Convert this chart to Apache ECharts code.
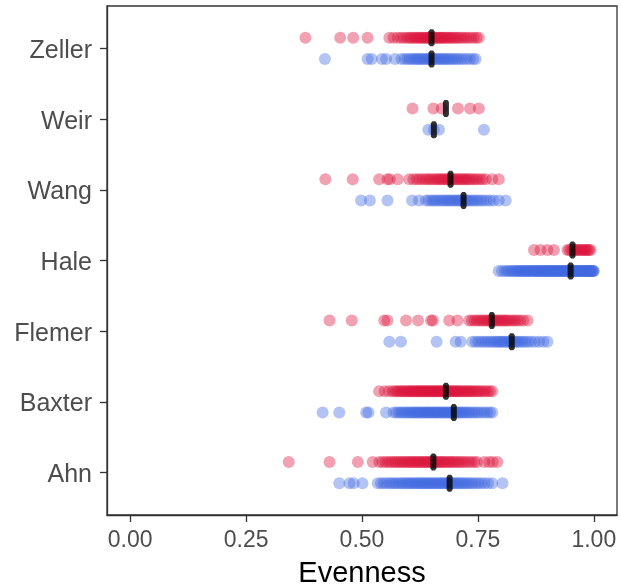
<!DOCTYPE html>
<html>
<head>
<meta charset="utf-8">
<script src="https://cdn.jsdelivr.net/npm/echarts@6/dist/echarts.min.js"></script>
<style>
  html, body { margin: 0; padding: 0; background: #ffffff; }
  #chart { width: 621px; height: 587px; }
</style>
</head>
<body>
<div id="chart"></div>
<script>
// Studies, listed from the bottom of the plot to the top
const studies = ['Ahn', 'Baxter', 'Flemer', 'Hale', 'Wang', 'Weir', 'Zeller'];

// Evenness per sample, first group (red) and second group (blue)
const ahnRed = [0.342, 0.430, 0.491, 0.523, 0.537, 0.544, 0.550, 0.556, 0.561, 0.566, 0.571, 0.575, 0.580, 0.584, 0.588, 0.592, 0.596, 0.600, 0.604, 0.607, 0.611, 0.615, 0.618, 0.622, 0.625, 0.629, 0.632, 0.636, 0.639, 0.642, 0.646, 0.649, 0.652, 0.655, 0.659, 0.662, 0.666, 0.669, 0.673, 0.676, 0.680, 0.684, 0.688, 0.692, 0.696, 0.700, 0.705, 0.709, 0.714, 0.719, 0.724, 0.730, 0.736, 0.742, 0.748, 0.764, 0.774, 0.782, 0.792];
const ahnBlue = [0.451, 0.473, 0.482, 0.501, 0.534, 0.541, 0.547, 0.553, 0.559, 0.564, 0.569, 0.574, 0.579, 0.584, 0.588, 0.593, 0.597, 0.601, 0.605, 0.609, 0.613, 0.617, 0.621, 0.625, 0.629, 0.632, 0.636, 0.640, 0.643, 0.647, 0.651, 0.654, 0.658, 0.662, 0.665, 0.669, 0.673, 0.676, 0.680, 0.684, 0.687, 0.691, 0.695, 0.699, 0.703, 0.707, 0.711, 0.715, 0.720, 0.724, 0.729, 0.734, 0.739, 0.745, 0.751, 0.757, 0.764, 0.772, 0.781, 0.803];

const baxterRed = [0.537, 0.549, 0.558, 0.566, 0.571, 0.575, 0.579, 0.583, 0.586, 0.590, 0.593, 0.597, 0.600, 0.603, 0.606, 0.609, 0.612, 0.615, 0.618, 0.621, 0.623, 0.626, 0.629, 0.632, 0.634, 0.637, 0.640, 0.642, 0.645, 0.648, 0.650, 0.653, 0.656, 0.658, 0.661, 0.664, 0.666, 0.669, 0.672, 0.674, 0.677, 0.680, 0.683, 0.685, 0.688, 0.691, 0.694, 0.697, 0.700, 0.703, 0.706, 0.709, 0.712, 0.716, 0.719, 0.722, 0.726, 0.729, 0.733, 0.736, 0.740, 0.744, 0.748, 0.752, 0.756, 0.761, 0.766, 0.771, 0.776, 0.781];
const baxterBlue = [0.415, 0.451, 0.509, 0.514, 0.552, 0.568, 0.574, 0.579, 0.584, 0.588, 0.593, 0.597, 0.601, 0.605, 0.609, 0.612, 0.616, 0.619, 0.623, 0.626, 0.630, 0.633, 0.636, 0.640, 0.643, 0.646, 0.649, 0.653, 0.656, 0.659, 0.662, 0.665, 0.669, 0.672, 0.675, 0.678, 0.682, 0.685, 0.688, 0.692, 0.695, 0.698, 0.702, 0.705, 0.709, 0.712, 0.716, 0.720, 0.724, 0.728, 0.732, 0.737, 0.742, 0.747, 0.752, 0.758, 0.764, 0.770, 0.776, 0.781];

const flemerRed = [0.430, 0.478, 0.548, 0.555, 0.595, 0.621, 0.649, 0.653, 0.688, 0.706, 0.731, 0.737, 0.743, 0.748, 0.753, 0.758, 0.762, 0.767, 0.771, 0.775, 0.779, 0.783, 0.787, 0.791, 0.795, 0.799, 0.803, 0.807, 0.811, 0.815, 0.820, 0.825, 0.830, 0.835, 0.841, 0.848, 0.857];
const flemerBlue = [0.559, 0.584, 0.661, 0.702, 0.713, 0.738, 0.745, 0.751, 0.757, 0.763, 0.768, 0.774, 0.779, 0.784, 0.789, 0.793, 0.797, 0.801, 0.805, 0.809, 0.813, 0.817, 0.821, 0.825, 0.829, 0.833, 0.837, 0.842, 0.847, 0.852, 0.858, 0.865, 0.873, 0.882, 0.891, 0.900];

const haleRed = [0.871, 0.885, 0.900, 0.914, 0.943, 0.947, 0.951, 0.955, 0.958, 0.962, 0.965, 0.968, 0.972, 0.975, 0.978, 0.981, 0.984, 0.987, 0.990, 0.993];
const haleBlue = [0.795, 0.802, 0.808, 0.813, 0.817, 0.822, 0.825, 0.829, 0.833, 0.836, 0.838, 0.842, 0.845, 0.847, 0.851, 0.853, 0.856, 0.859, 0.860, 0.864, 0.867, 0.869, 0.872, 0.874, 0.876, 0.879, 0.881, 0.884, 0.885, 0.888, 0.891, 0.893, 0.894, 0.897, 0.899, 0.902, 0.904, 0.905, 0.908, 0.911, 0.912, 0.915, 0.917, 0.919, 0.922, 0.923, 0.926, 0.928, 0.931, 0.933, 0.934, 0.937, 0.939, 0.941, 0.943, 0.946, 0.947, 0.950, 0.952, 0.953, 0.956, 0.958, 0.960, 0.962, 0.963, 0.966, 0.968, 0.969, 0.972, 0.974, 0.975, 0.977, 0.979, 0.981, 0.983, 0.984, 0.986, 0.988, 0.990, 0.991, 0.993, 0.995, 0.996, 0.998, 0.999, 1.000];

const wangRed = [0.421, 0.480, 0.537, 0.555, 0.560, 0.577, 0.602, 0.611, 0.618, 0.624, 0.630, 0.636, 0.641, 0.646, 0.651, 0.656, 0.661, 0.665, 0.669, 0.673, 0.677, 0.681, 0.685, 0.689, 0.693, 0.697, 0.701, 0.705, 0.709, 0.713, 0.717, 0.721, 0.725, 0.729, 0.733, 0.738, 0.743, 0.748, 0.754, 0.760, 0.767, 0.781, 0.795];
const wangBlue = [0.498, 0.517, 0.555, 0.608, 0.623, 0.638, 0.644, 0.650, 0.655, 0.660, 0.665, 0.670, 0.675, 0.679, 0.684, 0.688, 0.692, 0.697, 0.701, 0.705, 0.709, 0.713, 0.717, 0.722, 0.726, 0.730, 0.735, 0.740, 0.745, 0.750, 0.756, 0.762, 0.769, 0.776, 0.784, 0.795, 0.810];

const weirRed = [0.609, 0.654, 0.672, 0.707, 0.733, 0.752];
const weirBlue = [0.643, 0.655, 0.666, 0.763];

const zellerRed = [0.378, 0.453, 0.481, 0.512, 0.559, 0.568, 0.577, 0.584, 0.590, 0.596, 0.601, 0.605, 0.609, 0.613, 0.617, 0.620, 0.624, 0.627, 0.631, 0.634, 0.637, 0.640, 0.643, 0.646, 0.649, 0.652, 0.655, 0.658, 0.661, 0.664, 0.667, 0.670, 0.673, 0.676, 0.679, 0.683, 0.686, 0.690, 0.693, 0.697, 0.701, 0.705, 0.709, 0.714, 0.719, 0.724, 0.729, 0.735, 0.741, 0.747, 0.752];
const zellerBlue = [0.420, 0.512, 0.521, 0.543, 0.552, 0.571, 0.585, 0.592, 0.598, 0.603, 0.608, 0.613, 0.617, 0.621, 0.625, 0.629, 0.633, 0.637, 0.641, 0.645, 0.648, 0.652, 0.656, 0.660, 0.664, 0.668, 0.672, 0.676, 0.680, 0.684, 0.689, 0.693, 0.698, 0.703, 0.708, 0.714, 0.720, 0.726, 0.733, 0.740, 0.745];

// Group medians per study (same order as studies)
const medianRed = [0.654, 0.681, 0.780, 0.954, 0.691, 0.681, 0.650];
const medianBlue = [0.689, 0.698, 0.823, 0.950, 0.719, 0.655, 0.650];

// X-axis tick positions
const xTicks = [0, 0.25, 0.5, 0.75, 1];

const redByStudy = [ahnRed, baxterRed, flemerRed, haleRed, wangRed, weirRed, zellerRed];
const blueByStudy = [ahnBlue, baxterBlue, flemerBlue, haleBlue, wangBlue, weirBlue, zellerBlue];

const DODGE = 0.15;
const RED = 'rgba(220, 20, 60, 0.5)';
const BLUE = 'rgba(65, 105, 225, 0.5)';
const AXIS_COL = '#333333';

function points(groups, offset) {
  const out = [];
  groups.forEach((vals, i) => vals.forEach(v => out.push([v, i + offset])));
  return out;
}
function medians(vals, offset) {
  return vals.map((v, i) => [v, i + offset]);
}

const yTicks = studies.map((_, i) => i);
const medianSymbol = 'path://M1,0 L3,0 L4,2 L4,15 L3,17 L1,17 L0,15 L0,2 Z';

const chart = echarts.init(document.getElementById('chart'), null, { renderer: 'canvas' });
chart.setOption({
  animation: false,
  backgroundColor: '#ffffff',
  grid: {
    left: 107, top: 6, right: 4, bottom: 72,
    outerBoundsMode: 'none',
    containLabel: false,
    show: true, borderColor: AXIS_COL, borderWidth: 1.3, backgroundColor: 'transparent'
  },
  xAxis: {
    type: 'value', min: -0.05, max: 1.05,
    name: 'Evenness', nameLocation: 'middle', nameGap: 44,
    nameTextStyle: { fontFamily: 'Liberation Sans', fontSize: 29, color: '#000000' },
    axisLine: { show: true, onZero: false, lineStyle: { color: AXIS_COL, width: 1.3 } },
    splitLine: { show: false },
    axisTick: { show: true, inside: false, customValues: xTicks, length: 7, lineStyle: { color: AXIS_COL, width: 1.3 } },
    axisLabel: {
      customValues: xTicks, margin: 14,
      fontFamily: 'Liberation Sans', fontSize: 23, color: '#4D4D4D',
      formatter: v => v.toFixed(2)
    }
  },
  yAxis: {
    type: 'value', min: -0.6, max: 6.6,
    axisLine: { show: true, onZero: false, lineStyle: { color: AXIS_COL, width: 1.3 } },
    splitLine: { show: false },
    axisTick: { show: true, inside: false, customValues: yTicks, length: 7, lineStyle: { color: AXIS_COL, width: 1.3 } },
    axisLabel: {
      customValues: yTicks, margin: 15,
      fontFamily: 'Liberation Sans', fontSize: 25, color: '#4D4D4D',
      formatter: v => '{s|' + studies[Math.round(v)] + '}',
      rich: {
        s: { fontFamily: 'Liberation Sans', fontSize: 25, color: '#4D4D4D', padding: [5, 0, 0, 0] }
      }
    }
  },
  series: [
    { type: 'scatter', data: points(redByStudy, DODGE), symbolSize: 12, itemStyle: { color: RED }, silent: true },
    { type: 'scatter', data: points(blueByStudy, -DODGE), symbolSize: 12, itemStyle: { color: BLUE }, silent: true },
    { type: 'scatter', data: medians(medianRed, DODGE), symbol: medianSymbol, symbolSize: [6, 17], itemStyle: { color: '#000000' }, silent: true, z: 5 },
    { type: 'scatter', data: medians(medianBlue, -DODGE), symbol: medianSymbol, symbolSize: [6, 17], itemStyle: { color: '#000000' }, silent: true, z: 5 }
  ]
});
</script>
</body>
</html>
